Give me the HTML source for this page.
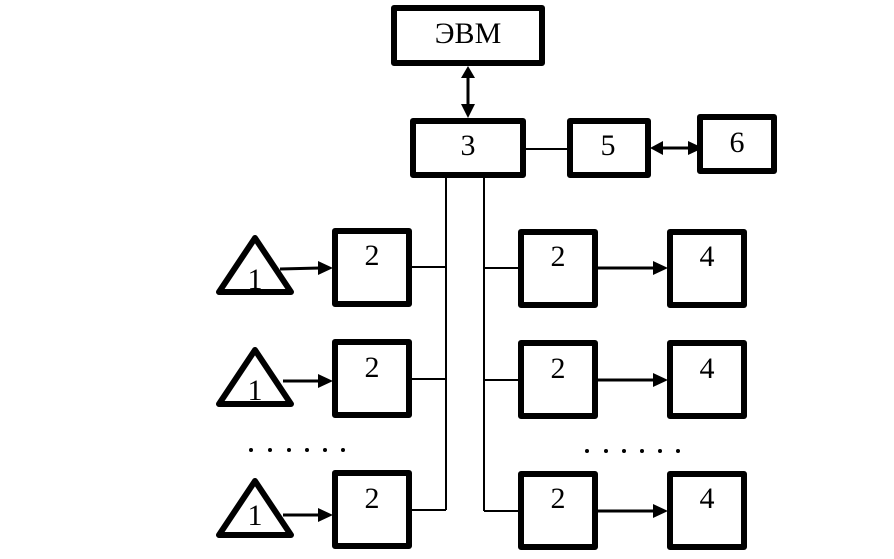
<!DOCTYPE html>
<html><head><meta charset="utf-8"><style>html,body{margin:0;padding:0;background:#fff}svg{display:block}</style></head>
<body>
<svg width="894" height="559" viewBox="0 0 894 559" xmlns="http://www.w3.org/2000/svg" font-family="'Liberation Serif', serif" font-size="30">
<g fill="none" stroke="#000" stroke-width="6" stroke-linejoin="round">
<rect x="394" y="8" width="148" height="55"/>
<rect x="413" y="121" width="110" height="54"/>
<rect x="570" y="121" width="78" height="54"/>
<rect x="700" y="117" width="74" height="54"/>
<rect x="335" y="231" width="74" height="73"/>
<rect x="335" y="342" width="74" height="73"/>
<rect x="335" y="473" width="74" height="73"/>
<rect x="521" y="232" width="74" height="73"/>
<rect x="521" y="343" width="74" height="73"/>
<rect x="521" y="474" width="74" height="73"/>
<rect x="670" y="232" width="74" height="73"/>
<rect x="670" y="343" width="74" height="73"/>
<rect x="670" y="474" width="74" height="73"/>
<polygon points="255,238 219,292 291,292"/>
<polygon points="255,350 219,404 291,404"/>
<polygon points="255,481 219,535 291,535"/>
</g>
<g stroke="#000" stroke-width="2" fill="none">
<line x1="525" y1="149" x2="568" y2="149"/>
<line x1="446" y1="177" x2="446" y2="510"/>
<line x1="484" y1="177" x2="484" y2="511"/>
<line x1="411" y1="267" x2="446" y2="267"/>
<line x1="411" y1="379" x2="446" y2="379"/>
<line x1="411" y1="510" x2="446" y2="510"/>
<line x1="484" y1="268" x2="518" y2="268"/>
<line x1="484" y1="380" x2="518" y2="380"/>
<line x1="484" y1="511" x2="518" y2="511"/>
</g>
<g stroke="#000" stroke-width="3" fill="none">
<line x1="468" y1="76" x2="468" y2="106"/>
<line x1="660" y1="148" x2="690" y2="148"/>
<line x1="280" y1="269" x2="320" y2="268"/>
<line x1="283" y1="381" x2="320" y2="381"/>
<line x1="283" y1="515" x2="320" y2="515"/>
<line x1="598" y1="268" x2="655" y2="268"/>
<line x1="598" y1="380" x2="655" y2="380"/>
<line x1="598" y1="511" x2="655" y2="511"/>
</g>
<g fill="#000">
<polygon points="468,66 461,78 475,78"/>
<polygon points="468,118 461,104 475,104"/>
<polygon points="650,148 663,141 663,155"/>
<polygon points="703,148 688,141 688,155"/>
<polygon points="333,268 318,261 318,275"/>
<polygon points="333,381 318,374 318,388"/>
<polygon points="333,515 318,508 318,522"/>
<polygon points="668,268 653,261 653,275"/>
<polygon points="668,380 653,373 653,387"/>
<polygon points="668,511 653,504 653,518"/>
<g>
<circle cx="251" cy="450" r="2"/><circle cx="270" cy="450" r="2"/><circle cx="289" cy="450" r="2"/><circle cx="307" cy="450" r="2"/><circle cx="325" cy="450" r="2"/><circle cx="343" cy="450" r="2"/>
<circle cx="587" cy="451" r="2"/><circle cx="606" cy="451" r="2"/><circle cx="624" cy="451" r="2"/><circle cx="642" cy="451" r="2"/><circle cx="660" cy="451" r="2"/><circle cx="678" cy="451" r="2"/>
</g>
</g>
<g fill="#000" text-anchor="middle">
<text x="468" y="43">ЭВМ</text>
<text x="468" y="155">3</text>
<text x="608" y="155">5</text>
<text x="737" y="152">6</text>
<text x="372" y="265">2</text>
<text x="372" y="377">2</text>
<text x="372" y="508">2</text>
<text x="558" y="266">2</text>
<text x="558" y="378">2</text>
<text x="558" y="508">2</text>
<text x="707" y="266">4</text>
<text x="707" y="378">4</text>
<text x="707" y="508">4</text>
<text x="255" y="289">1</text>
<text x="255" y="400">1</text>
<text x="255" y="525">1</text>
</g>
</svg>
</body></html>
